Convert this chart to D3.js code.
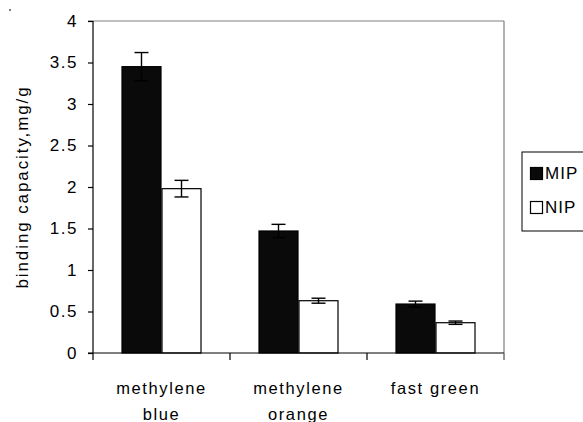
<!DOCTYPE html>
<html>
<head>
<meta charset="utf-8">
<script src="https://cdn.jsdelivr.net/npm/d3@7"></script>
<style>
	body { margin: 0; background: #fff; }
	svg text { font-family: "Liberation Sans", Arial, sans-serif; fill: #000; }
</style>
</head>
<body>
<svg id="chart" width="583" height="422"></svg>
<script>
// data
var categories = ["methylene blue", "methylene orange", "fast green"];
var seriesNames = ["MIP", "NIP"];
var mipValues = [3.45, 1.47, 0.59];
var mipErrors = [0.17, 0.08, 0.035];
var nipValues = [1.98, 0.63, 0.365];
var nipErrors = [0.1, 0.03, 0.02];
var yTicks = [0, 0.5, 1, 1.5, 2, 2.5, 3, 3.5, 4];

var width = 583,
	height = 422;

// plot area (window.top is taken, so no plain "top")
var plotLeft = 93, plotRight = 504, plotTop = 21, plotBottom = 353;

var svg = d3.select("#chart");

// rows for the bars
var rows = [];
categories.forEach(function (c, i) {
	rows.push({ cat: c, series: "MIP", value: mipValues[i], err: mipErrors[i] });
	rows.push({ cat: c, series: "NIP", value: nipValues[i], err: nipErrors[i] });
});

var x0 = d3.scaleBand()
	.domain(categories)
	.range([plotLeft, plotRight])
	.paddingInner(0.416)
	.paddingOuter(0.208);

var x1 = d3.scaleBand()
	.domain(seriesNames)
	.range([0, x0.bandwidth()]);

var y = d3.scaleLinear()
	.domain([0, 4])
	.range([plotBottom, plotTop]);

var fills = { MIP: "#0a0a0a", NIP: "#ffffff" };

// grey frame on top and right
svg.append("line")
	.attr("x1", plotLeft - 5).attr("x2", plotRight)
	.attr("y1", y(4)).attr("y2", y(4))
	.attr("stroke", "#808080").attr("stroke-width", 1.2);
svg.append("line")
	.attr("x1", plotRight).attr("x2", plotRight)
	.attr("y1", y(4)).attr("y2", plotBottom + 7)
	.attr("stroke", "#808080").attr("stroke-width", 1.2);

// bars
svg.append("g").selectAll("rect")
	.data(rows)
	.enter()
	.append("rect")
	.attr("x", function (d) { return x0(d.cat) + x1(d.series) + 0.5; })
	.attr("y", function (d) { return y(d.value); })
	.attr("width", x1.bandwidth() - 1)
	.attr("height", function (d) { return plotBottom - y(d.value); })
	.attr("fill", function (d) { return fills[d.series]; })
	.attr("stroke", "#000")
	.attr("stroke-width", 1.2);

// error bars
var capW = 14;
var eb = svg.append("g").selectAll("g")
	.data(rows)
	.enter()
	.append("g")
	.attr("stroke", "#000")
	.attr("stroke-width", 1.4);
eb.append("line")
	.attr("x1", function (d) { return x0(d.cat) + x1(d.series) + x1.bandwidth() / 2; })
	.attr("x2", function (d) { return x0(d.cat) + x1(d.series) + x1.bandwidth() / 2; })
	.attr("y1", function (d) { return y(d.value - d.err); })
	.attr("y2", function (d) { return y(d.value + d.err); });
[-1, 1].forEach(function (s) {
	eb.append("line")
		.attr("x1", function (d) { return x0(d.cat) + x1(d.series) + x1.bandwidth() / 2 - capW / 2; })
		.attr("x2", function (d) { return x0(d.cat) + x1(d.series) + x1.bandwidth() / 2 + capW / 2; })
		.attr("y1", function (d) { return y(d.value + s * d.err); })
		.attr("y2", function (d) { return y(d.value + s * d.err); });
});

// y axis
var yAxis = svg.append("g")
	.attr("transform", "translate(" + plotLeft + ",0)")
	.call(d3.axisLeft(y).tickValues(yTicks).tickSize(5).tickPadding(10).tickFormat(d3.format("")));
yAxis.select(".domain").attr("d", "M0," + plotTop + "V" + (plotBottom + 7)).attr("stroke-width", 1.2);
yAxis.selectAll(".tick line").attr("stroke-width", 1.2);
yAxis.selectAll("text")
	.attr("font-size", "17px")
	.attr("letter-spacing", "1.5px")
	.attr("font-family", "Liberation Sans, Arial, sans-serif");

// x axis line and boundary ticks
var step = x0.step();
svg.append("line")
	.attr("x1", plotLeft - 5).attr("x2", plotRight)
	.attr("y1", plotBottom).attr("y2", plotBottom)
	.attr("stroke", "#000").attr("stroke-width", 1.2);
var bounds = categories.map(function (c) { return x0(c) - step * x0.paddingInner() / 2; });
bounds.push(plotRight);
svg.append("g").selectAll("line")
	.data(bounds.slice(1))
	.enter()
	.append("line")
	.attr("x1", function (d) { return d; })
	.attr("x2", function (d) { return d; })
	.attr("y1", plotBottom).attr("y2", plotBottom + 7)
	.attr("stroke", function (d, i) { return i == bounds.length - 2 ? "#808080" : "#000"; })
	.attr("stroke-width", 1.2);

// category labels, wrapped on two lines
var xl = svg.append("g").selectAll("text")
	.data(categories)
	.enter()
	.append("text")
	.attr("text-anchor", "middle")
	.attr("font-size", "16.5px")
	.attr("letter-spacing", "1.6px")
	.attr("x", function (d) { return x0(d) + x0.bandwidth() / 2; })
	.attr("y", 394);
xl.each(function (d) {
	var words = d == "fast green" ? [d] : d.split(" ");
	var t = d3.select(this);
	words.forEach(function (w, i) {
		t.append("tspan")
			.attr("x", x0(d) + x0.bandwidth() / 2)
			.attr("dy", i == 0 ? 0 : 26)
			.text(w);
	});
});

// y label
svg.append("text")
	.attr("transform", "translate(28," + ((plotTop + plotBottom) / 2) + ") rotate(-90)")
	.attr("text-anchor", "middle")
	.attr("font-size", "17px")
	.attr("letter-spacing", "1.9px")
	.text("binding capacity,mg/g");

// legend
var legend = svg.append("g");
legend.append("rect")
	.attr("x", 522).attr("y", 152)
	.attr("width", 80).attr("height", 79)
	.attr("fill", "none").attr("stroke", "#000").attr("stroke-width", 1);
var legY = d3.scalePoint().domain(seriesNames).range([173, 207]);
seriesNames.forEach(function (s) {
	legend.append("rect")
		.attr("x", 530.5).attr("y", legY(s) - 5.5)
		.attr("width", 12).attr("height", 12)
		.attr("fill", fills[s]).attr("stroke", "#000").attr("stroke-width", 1.2);
	legend.append("text")
		.attr("x", 545).attr("y", legY(s) + 6)
		.attr("font-size", "17px")
		.attr("letter-spacing", "1px")
		.text(s);
});

// small stray mark in the top left corner
svg.append("rect")
	.attr("x", 9).attr("y", 9.5)
	.attr("width", 2).attr("height", 1)
	.attr("fill", "#000");
</script>
</body>
</html>
